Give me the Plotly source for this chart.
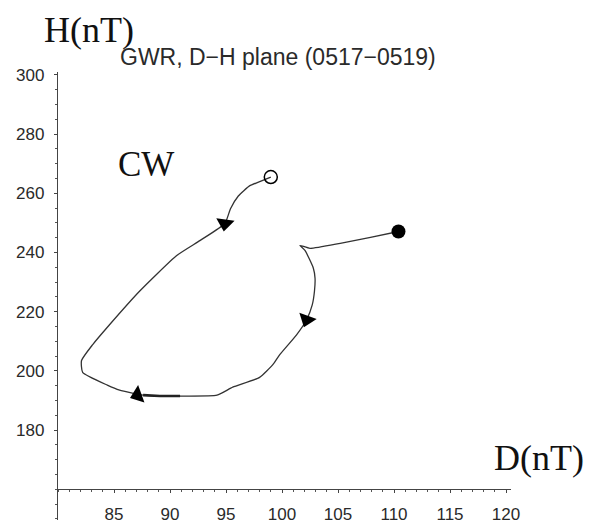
import plotly.graph_objects as go

# Hodograph of the D and H geomagnetic components (nT), GWR station, 0517-0519
D_nT = [110.4, 107.9, 105.2, 102.5, 101.6, 102.05, 102.8, 102.95, 102.9, 102.7,
        102.2, 101.3, 99.8, 99.2, 98.0, 95.6, 94.2, 90.9, 89.1, 87.6,
        85.5, 84.4, 82.2, 82.1, 83.1, 84.6, 87.3, 90.6, 92.7, 94.9,
        95.4, 96.1, 97.1, 97.9, 99.0]
H_nT = [247.1, 245.1, 243.1, 241.4, 242.4, 240.7, 234.7, 231.3, 227.0, 222.3,
        217.3, 212.2, 205.5, 202.2, 197.8, 194.5, 191.8, 191.5, 191.5, 191.8,
        193.5, 195.2, 199.5, 203.5, 208.9, 215.6, 227.0, 239.0, 244.1, 249.8,
        254.8, 259.1, 262.5, 263.8, 265.5]

# direction arrowheads along the path
arrow_D = [102.2, 87.1, 94.9]
arrow_H = [217.3, 191.8, 249.8]
arrow_symbol = ["triangle-down", "triangle-left", "triangle-down"]
arrow_angle = [20, -20, 8]

x_ticks = [85, 90, 95, 100, 105, 110, 115, 120]
y_ticks = [180, 200, 220, 240, 260, 280, 300]

W, HGT = 592, 524
L, R, T, B = 58, 81, 72, 0
PW, PH = W - L - R, HGT - T - B


def px(x):
    return (x - L) / PW


def py(y):
    return (HGT - B - y) / PH


ink = "#222222"
fig = go.Figure()

fig.add_trace(go.Scatter(x=D_nT, y=H_nT, mode="lines", line_shape="spline",
                         line=dict(color="#333333", width=1.3, smoothing=0.5),
                         hoverinfo="skip", showlegend=False))
# heavier stretch along the bottom of the loop
fig.add_trace(go.Scatter(x=D_nT[17:20], y=H_nT[17:20], mode="lines",
                         line=dict(color=ink, width=2.6),
                         hoverinfo="skip", showlegend=False))
fig.add_trace(go.Scatter(x=arrow_D, y=arrow_H, mode="markers",
                         marker=dict(symbol=arrow_symbol, angle=arrow_angle,
                                     size=16, color="black"),
                         hoverinfo="skip", showlegend=False))
# start (filled) and end (open) of the interval
fig.add_trace(go.Scatter(x=[D_nT[0]], y=[H_nT[0]], mode="markers",
                         marker=dict(symbol="circle", size=14, color="black"),
                         hoverinfo="skip", showlegend=False))
fig.add_trace(go.Scatter(x=[D_nT[-1]], y=[H_nT[-1]], mode="markers",
                         marker=dict(symbol="circle-open", size=13, color="black",
                                     line=dict(width=1.5)),
                         hoverinfo="skip", showlegend=False))

tick_font = dict(family="Liberation Sans, Arial, sans-serif", size=17, color="#2a2a2a")
x_per_px = 1 / 11.2
y_per_px = 1 / 2.986

fig.update_layout(
    width=W, height=HGT,
    margin=dict(l=L, r=R, t=T, b=B),
    paper_bgcolor="white", plot_bgcolor="white",
    xaxis=dict(range=[80, 80 + PW * x_per_px], tickmode="array", tickvals=x_ticks,
               anchor="free", position=31 / PH, showline=True, linecolor="#444444",
               linewidth=1.3, showgrid=False, zeroline=False,
               ticks="outside", ticklen=3, tickcolor="#444444",
               tickfont=tick_font, ticklabelstandoff=6,
               minor=dict(dtick=1, tick0=0, ticks="outside", ticklen=2,
                          tickcolor="#555555", showgrid=False)),
    yaxis=dict(range=[160 - 31 * y_per_px, 160 + (HGT - 31 - T) * y_per_px],
               tickmode="array", tickvals=y_ticks, showline=True,
               linecolor="#444444", linewidth=1.3, showgrid=False, zeroline=False,
               ticks="outside", ticklen=3, tickcolor="#444444",
               tickfont=tick_font, ticklabelstandoff=6,
               minor=dict(dtick=5, tick0=0, ticks="outside", ticklen=2,
                          tickcolor="#555555", showgrid=False)),
)

serif = "Liberation Serif, Times New Roman, serif"
annotations = [
    dict(text="H(nT)", x=px(89), y=py(30), font=dict(family=serif, size=36, color="#111111")),
    dict(text="CW", x=px(146), y=py(165), font=dict(family=serif, size=35, color="#111111")),
    dict(text="D(nT)", x=px(539), y=py(461), font=dict(family=serif, size=36, color="#111111")),
    dict(text="GWR, D\u2212H plane (0517\u22120519)", x=px(278), y=py(57),
         font=dict(family="Liberation Sans, Arial, sans-serif", size=23, color="#2a2a2a")),
]
for a in annotations:
    fig.add_annotation(xref="paper", yref="paper", showarrow=False,
                       xanchor="center", yanchor="middle", **a)

fig.write_html("out.html")
